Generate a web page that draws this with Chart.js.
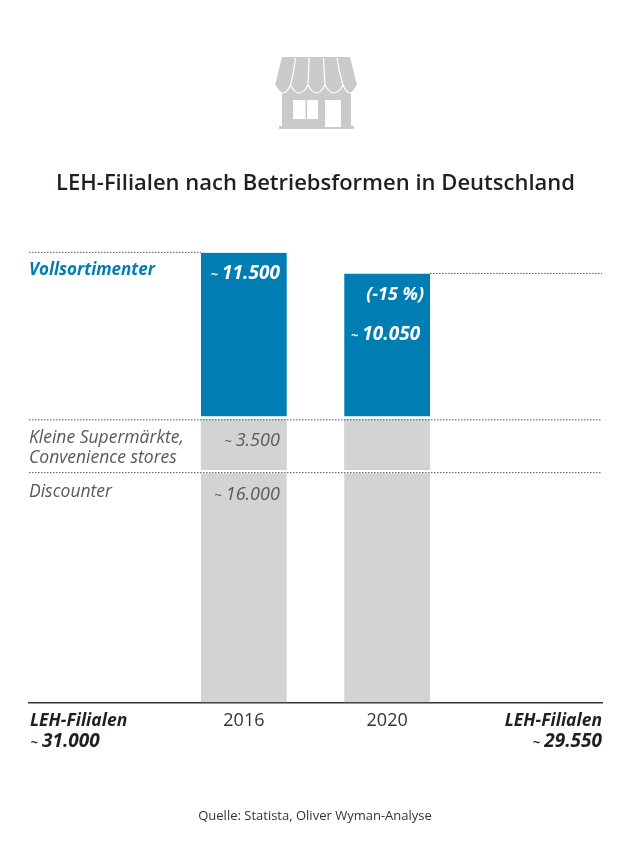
<!DOCTYPE html>
<html lang="de">
<head>
<meta charset="utf-8">
<title>LEH-Filialen nach Betriebsformen in Deutschland</title>
<script src="https://cdn.jsdelivr.net/npm/chart.js@4"></script>
<style>
  html, body { margin: 0; padding: 0; background: #fff; }
  #wrap { position: relative; width: 630px; height: 850px; overflow: hidden; }
  #chart { position: absolute; left: 0; top: 0; }
  #icon { position: absolute; left: 0; top: 0; }
</style>
</head>
<body>
<div id="wrap">
  <canvas id="chart" width="630" height="850"></canvas>
  <svg id="icon" width="630" height="150" viewBox="0 0 630 150">
    <!-- shop icon -->
    <path fill="#c9cacc" fill-rule="evenodd" d="M282 86H351V126H354V129H279V126H282Z M293 100V119H305.500V100Z M307 100V119H318V100Z M325 100V127H341V100Z"/>
    <path fill="#c9cacc" d="M282 57H350L357 85Q350 101 343 85Q334 101 325 85Q316.500 101 308 85Q299 101 290.500 85Q283 101 275 85Z"/>
    <path fill="none" stroke="#fff" stroke-width="1.2" d="M275 85Q283 101 290.500 85Q299 101 308 85Q316.500 101 325 85Q334 101 343 85Q350 101 357 85 M295.500 58Q294 72 290.500 85 M309 58L308 85 M323.500 58L325 85 M337 58Q339 72 343 85"/>
  </svg>
</div>
<script>
const categories = ["", "2016", "2020", ""];
const discounter = [null, 16000, 16000, null];
const kleineSupermaerkte = [null, 3500, 3500, null];
const vollsortimenter = [null, 11500, 10050, null];
const changeLabel = "(-15 %)";
const totalLeft = 31000;
const totalRight = 29550;

const BLUE = "#007db3";
const GREY = "#d1d3d4";
const TEXT_GREY = "#58595b";
const TEXT_DARK = "#231f20";
const FONT = '"Open Sans", sans-serif';

const fmt = (n) => n.toLocaleString("de-DE");

// number with a small tilde in front, right aligned at x
function approx(ctx, value, x, y, font, color) {
  ctx.font = font;
  ctx.fillStyle = color;
  ctx.textAlign = "right";
  const text = fmt(value);
  ctx.fillText(text, x, y);
  const w = ctx.measureText(text).width;
  ctx.font = font.replace(/\d+px/, "13px");
  ctx.fillText("~", x - w - 4, y);
}

function text(ctx, str, x, y, font, color, align) {
  ctx.font = font;
  ctx.fillStyle = color;
  ctx.textAlign = align || "left";
  ctx.fillText(str, x, y);
}

function dotted(ctx, x1, x2, y) {
  ctx.save();
  ctx.strokeStyle = "#555";
  ctx.lineWidth = 1;
  ctx.setLineDash([1.5, 1.5]);
  ctx.beginPath();
  ctx.moveTo(x1, y);
  ctx.lineTo(x2, y);
  ctx.stroke();
  ctx.restore();
}

const annotations = {
  id: "annotations",
  afterDatasetsDraw(chart) {
    const { ctx, chartArea, scales } = chart;
    const y = scales.y;
    const left = chartArea.left;
    const right = chartArea.right;
    const bar2016 = chart.getDatasetMeta(2).data[1];
    const bar2020 = chart.getDatasetMeta(2).data[2];
    const x2016 = bar2016.x + bar2016.width / 2;
    const x2020 = bar2020.x + bar2020.width / 2;

    const yDisc = y.getPixelForValue(discounter[1]);
    const yKlein = y.getPixelForValue(discounter[1] + kleineSupermaerkte[1]);
    const yTop16 = bar2016.y;
    const yTop20 = bar2020.y;

    // reference lines
    dotted(ctx, left, right, yDisc + 2.5);
    dotted(ctx, left, right, yKlein + 0.5);
    dotted(ctx, left, bar2016.x - bar2016.width / 2, yTop16);
    dotted(ctx, x2020, right, yTop20);

    ctx.save();
    ctx.textBaseline = "alphabetic";

    // segment names
    text(ctx, "Vollsortimenter", left, yTop16 + 23, `italic 700 17px ${FONT}`, BLUE);
    text(ctx, "Kleine Supermärkte,", left, yKlein + 24, `italic 400 17.5px ${FONT}`, TEXT_GREY);
    text(ctx, "Convenience stores", left, yKlein + 44, `italic 400 17.5px ${FONT}`, TEXT_GREY);
    text(ctx, "Discounter", left, yDisc + 27, `italic 400 17.5px ${FONT}`, TEXT_GREY);

    // value labels
    approx(ctx, vollsortimenter[1], x2016 - 7, yTop16 + 27, `italic 700 19px ${FONT}`, "#fff");
    approx(ctx, kleineSupermaerkte[1], x2016 - 7, yKlein + 27, `italic 400 18px ${FONT}`, TEXT_GREY);
    approx(ctx, discounter[1], x2016 - 7, yDisc + 30, `italic 400 18px ${FONT}`, TEXT_GREY);
    text(ctx, changeLabel, x2020 - 6, yTop20 + 27, `italic 700 18px ${FONT}`, "#fff", "right");
    approx(ctx, vollsortimenter[2], x2020 - 10, yTop20 + 67, `italic 700 19px ${FONT}`, "#fff");

    // totals below the axis
    const yAxis = chartArea.bottom;
    const totalFont = `italic 700 19px ${FONT}`;
    text(ctx, "LEH-Filialen", left + 1, yAxis + 24, `italic 700 17.5px ${FONT}`, TEXT_DARK);
    text(ctx, "LEH-Filialen", right, yAxis + 24, `italic 700 17.5px ${FONT}`, TEXT_DARK, "right");
    approx(ctx, totalRight, right, yAxis + 45, totalFont, TEXT_DARK);
    ctx.font = totalFont;
    const w = ctx.measureText(fmt(totalLeft)).width;
    approx(ctx, totalLeft, left + 13 + w, yAxis + 45, totalFont, TEXT_DARK);

    // source
    text(ctx, "Quelle: Statista, Oliver Wyman-Analyse", 315, 820, `400 13px ${FONT}`, "#333", "center");
    ctx.restore();
  },
};

new Chart(document.getElementById("chart"), {
  type: "bar",
  data: {
    labels: categories,
    datasets: [
      {
        label: "Discounter",
        data: discounter,
        backgroundColor: GREY,
        borderColor: "#fff",
        borderWidth: { top: 3, left: 0, right: 0, bottom: 0 },
        borderSkipped: false,
      },
      {
        label: "Kleine Supermärkte, Convenience stores",
        data: kleineSupermaerkte,
        backgroundColor: GREY,
        borderWidth: 0,
      },
      {
        label: "Vollsortimenter",
        data: vollsortimenter,
        backgroundColor: BLUE,
        borderColor: "#fff",
        borderWidth: { bottom: 3, left: 0, right: 0, top: 0 },
        borderSkipped: false,
      },
    ],
  },
  options: {
    responsive: false,
    animation: false,
    barPercentage: 0.6,
    categoryPercentage: 1,
    layout: { padding: { top: 171, left: 29, right: 28, bottom: 118 } },
    plugins: {
      legend: { display: false },
      tooltip: { enabled: false },
      title: {
        display: true,
        text: "LEH-Filialen nach Betriebsformen in Deutschland",
        color: TEXT_DARK,
        font: { family: FONT, size: 22, weight: "600" },
        padding: { top: 0, bottom: 55 },
      },
    },
    scales: {
      x: {
        stacked: true,
        grid: { display: false },
        border: { color: "#333", width: 1.5 },
        ticks: {
          color: "#333",
          padding: 0,
          maxRotation: 0,
          font: { family: FONT, size: 18 },
        },
      },
      y: {
        stacked: true,
        display: false,
        min: 0,
        max: totalLeft,
      },
    },
  },
  plugins: [annotations],
});
</script>
</body>
</html>
